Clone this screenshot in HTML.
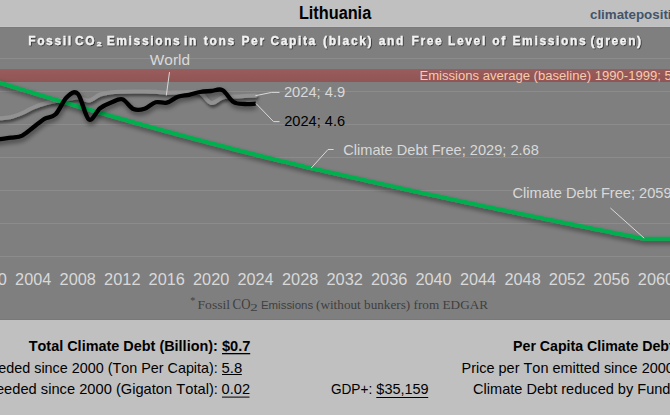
<!DOCTYPE html>
<html><head><meta charset="utf-8"><style>
html,body{margin:0;padding:0;background:#C0C0C0;}
body{width:670px;height:415px;overflow:hidden;position:relative;}
svg{position:absolute;left:0;top:0;display:block;}
text{font-kerning:none;white-space:pre;}
</style></head><body>
<svg width="670" height="415" viewBox="0 0 670 415">
<defs>
<filter id="sh" x="-10%" y="-30%" width="120%" height="160%"><feDropShadow dx="1" dy="3" stdDeviation="2.4" flood-color="#000" flood-opacity="0.5"/></filter>
<filter id="shw" x="-10%" y="-30%" width="120%" height="160%"><feDropShadow dx="1" dy="2.5" stdDeviation="1.6" flood-color="#000" flood-opacity="0.55"/></filter>
<filter id="tsh" x="-5%" y="-50%" width="110%" height="200%"><feDropShadow dx="0.8" dy="0.8" stdDeviation="0.6" flood-color="#000" flood-opacity="0.7"/></filter>
<linearGradient id="bandg" x1="0" y1="0" x2="0" y2="1"><stop offset="0" stop-color="#9A5C5C"/><stop offset="1" stop-color="#905555"/></linearGradient>
<clipPath id="plot"><rect x="0" y="28" width="670" height="291"/></clipPath>
</defs>
<rect x="0" y="0" width="670" height="27" fill="#C0C0C0"/>
<rect x="0" y="26" width="670" height="1" fill="#C4C4C4"/>
<rect x="0" y="27" width="670" height="293" fill="#7F7F7F"/>
<rect x="0" y="27" width="670" height="1" fill="#7A7A7A"/>
<rect x="0" y="319" width="670" height="1" fill="#787878"/>
<rect x="0" y="58" width="670" height="1" fill="#8C8C8C"/><rect x="0" y="91" width="670" height="1" fill="#8C8C8C"/><rect x="0" y="124" width="670" height="1" fill="#8C8C8C"/><rect x="0" y="157" width="670" height="1" fill="#8C8C8C"/><rect x="0" y="190" width="670" height="1" fill="#8C8C8C"/><rect x="0" y="223" width="670" height="1" fill="#8C8C8C"/><rect x="0" y="256" width="670" height="1" fill="#8C8C8C"/>
<rect x="0" y="69" width="670" height="13" fill="url(#bandg)"/>
<g clip-path="url(#plot)" fill="none" stroke-linejoin="round" stroke-linecap="round">
<path d="M-11.13,119.50 C-9.28,119.28 -3.72,118.62 -0.01,118.20 C3.70,117.78 7.40,117.87 11.11,117.00 C14.82,116.13 18.52,114.58 22.23,113.00 C25.94,111.42 29.64,109.08 33.35,107.50 C37.06,105.92 40.76,104.58 44.47,103.50 C48.18,102.42 51.88,101.67 55.59,101.00 C59.30,100.33 63.00,100.08 66.71,99.50 C70.42,98.92 74.12,97.33 77.83,97.50 C81.54,97.67 85.24,101.00 88.95,100.50 C92.66,100.00 96.36,95.87 100.07,94.50 C103.78,93.13 107.48,92.77 111.19,92.30 C114.90,91.83 118.60,91.83 122.31,91.70 C126.02,91.57 129.72,91.53 133.43,91.50 C137.14,91.47 140.84,91.45 144.55,91.50 C148.26,91.55 151.96,91.60 155.67,91.80 C159.38,92.00 163.08,92.58 166.79,92.70 C170.50,92.82 174.20,92.57 177.91,92.50 C181.62,92.43 185.32,92.25 189.03,92.30 C192.74,92.35 196.44,91.02 200.15,92.80 C203.86,94.58 207.56,102.22 211.27,103.00 C214.98,103.78 218.68,98.58 222.39,97.50 C226.10,96.42 229.80,96.75 233.51,96.50 C237.22,96.25 240.92,96.17 244.63,96.00 C248.34,95.83 253.90,95.58 255.75,95.50" stroke="#929292" stroke-width="4.0" filter="url(#shw)"/>
<path d="M-12.00,78.93 L-8.00,80.19 L-4.00,81.45 L0.00,82.70 L4.00,83.95 L8.00,85.19 L12.00,86.43 L16.00,87.67 L20.00,88.90 L24.00,90.13 L28.00,91.35 L32.00,92.57 L36.00,93.79 L40.00,95.00 L44.00,96.21 L48.00,97.41 L52.00,98.61 L56.00,99.81 L60.00,101.00 L64.00,102.19 L68.00,103.38 L72.00,104.56 L76.00,105.74 L80.00,106.91 L84.00,108.08 L88.00,109.25 L92.00,110.41 L96.00,111.57 L100.00,112.72 L104.00,113.87 L108.00,115.02 L112.00,116.16 L116.00,117.30 L120.00,118.43 L124.00,119.56 L128.00,120.69 L132.00,121.82 L136.00,122.93 L140.00,124.05 L144.00,125.16 L148.00,126.27 L152.00,127.37 L156.00,128.47 L160.00,129.57 L164.00,130.66 L168.00,131.75 L172.00,132.84 L176.00,133.92 L180.00,134.99 L184.00,136.07 L188.00,137.14 L192.00,138.20 L196.00,139.26 L200.00,140.32 L204.00,141.37 L208.00,142.42 L212.00,143.47 L216.00,144.51 L220.00,145.55 L224.00,146.58 L228.00,147.61 L232.00,148.64 L236.00,149.66 L240.00,150.68 L244.00,151.70 L248.00,152.71 L252.00,153.72 L256.00,154.72 L260.00,155.72 L264.00,156.71 L268.00,157.71 L272.00,158.69 L276.00,159.68 L280.00,160.66 L284.00,161.63 L288.00,162.61 L292.00,163.57 L296.00,164.54 L300.00,165.50 L304.00,166.46 L308.00,167.41 L312.00,168.25 L316.00,169.16 L320.00,170.08 L324.00,170.99 L328.00,171.90 L332.00,172.81 L336.00,173.71 L340.00,174.62 L344.00,175.52 L348.00,176.43 L352.00,177.33 L356.00,178.22 L360.00,179.12 L364.00,180.02 L368.00,180.91 L372.00,181.80 L376.00,182.69 L380.00,183.58 L384.00,184.47 L388.00,185.36 L392.00,186.24 L396.00,187.12 L400.00,188.00 L404.00,188.88 L408.00,189.76 L412.00,190.64 L416.00,191.51 L420.00,192.39 L424.00,193.26 L428.00,194.13 L432.00,195.00 L436.00,195.86 L440.00,196.73 L444.00,197.59 L448.00,198.45 L452.00,199.31 L456.00,200.17 L460.00,201.03 L464.00,201.88 L468.00,202.74 L472.00,203.59 L476.00,204.44 L480.00,205.29 L484.00,206.14 L488.00,206.98 L492.00,207.82 L496.00,208.67 L500.00,209.51 L504.00,210.35 L508.00,211.18 L512.00,212.02 L516.00,212.85 L520.00,213.69 L524.00,214.52 L528.00,215.35 L532.00,216.18 L536.00,217.00 L540.00,217.83 L544.00,218.65 L548.00,219.47 L552.00,220.29 L556.00,221.11 L560.00,221.93 L564.00,222.74 L568.00,223.55 L572.00,224.37 L576.00,225.18 L580.00,225.98 L584.00,226.79 L588.00,227.60 L592.00,228.40 L596.00,229.20 L600.00,230.00 L604.00,230.80 L608.00,231.60 L612.00,232.40 L616.00,233.19 L620.00,233.98 L624.00,234.77 L628.00,235.56 L632.00,236.35 L636.00,237.14 L640.00,237.92 L644.00,238.70 L644.50,238.80 L680.00,238.80" stroke="#00B050" stroke-width="4.1" filter="url(#sh)"/>
<path d="M-11.13,141.50 C-9.28,141.12 -3.72,139.83 -0.01,139.20 C3.70,138.57 7.40,138.30 11.11,137.70 C14.82,137.10 18.52,137.33 22.23,135.60 C25.94,133.87 29.64,130.10 33.35,127.30 C37.06,124.50 40.76,120.97 44.47,118.80 C48.18,116.63 51.88,117.88 55.59,114.30 C59.30,110.72 63.00,100.72 66.71,97.30 C70.42,93.88 74.12,90.10 77.83,93.80 C81.54,97.50 85.24,117.10 88.95,119.50 C92.66,121.90 96.36,111.02 100.07,108.20 C103.78,105.38 107.48,104.08 111.19,102.60 C114.90,101.12 118.60,98.23 122.31,99.30 C126.02,100.37 129.72,107.42 133.43,109.00 C137.14,110.58 140.84,109.92 144.55,108.80 C148.26,107.68 151.96,103.32 155.67,102.30 C159.38,101.28 163.08,103.62 166.79,102.70 C170.50,101.78 174.20,98.12 177.91,96.80 C181.62,95.48 185.32,95.60 189.03,94.80 C192.74,94.00 196.44,92.63 200.15,92.00 C203.86,91.37 207.56,91.32 211.27,91.00 C214.98,90.68 218.68,88.27 222.39,90.10 C226.10,91.93 229.80,99.68 233.51,102.00 C237.22,104.32 240.92,103.72 244.63,104.00 C248.34,104.28 253.90,103.75 255.75,103.70" stroke="#000000" stroke-width="4.3" stroke-linecap="butt" filter="url(#sh)"/>
</g>
<g stroke="#D9D9D9" stroke-width="1" fill="none"><line x1="169.5" y1="72.1" x2="166.3" y2="95.5"/><polyline points="255.4,95.7 271.7,92.4 279.5,92.4"/><polyline points="256.0,103.5 273.5,121.6 279.5,121.6"/><polyline points="311.2,168.1 328.0,149.5 333.6,149.5"/><polyline points="644.2,238.2 610.4,208.0"/></g>
<rect x="222.0" y="353.0" width="28.2" height="1.3" fill="#000"/><rect x="222.0" y="374.0" width="19.8" height="1.0" fill="#000"/><rect x="222.0" y="396.6" width="27.5" height="1.0" fill="#000"/><rect x="376.3" y="397.0" width="51.9" height="1.0" fill="#000"/>
<text id="t_title" x="298.91" y="18.85" font-family='"Liberation Sans", sans-serif' font-weight="bold" font-size="17.50" fill="#000000" textLength="72.28" lengthAdjust="spacingAndGlyphs">Lithuania</text>
<text id="t_site" x="589.98" y="18.60" font-family='"Liberation Sans", sans-serif' font-weight="bold" font-size="13.30" fill="#44546A" textLength="136.49" lengthAdjust="spacingAndGlyphs">climatepositions.com</text>
<text id="t_world" x="149.83" y="64.90" font-family='"Liberation Sans", sans-serif' font-weight="normal" font-size="14.40" fill="#D9D9D9" textLength="40.16" lengthAdjust="spacingAndGlyphs">World</text>
<text id="t_band" x="419.43" y="79.70" font-family='"Liberation Sans", sans-serif' font-weight="normal" font-size="12.50" fill="#F8CBAD" textLength="270.62" lengthAdjust="spacingAndGlyphs">Emissions average (baseline) 1990-1999; 5.49</text>
<text id="t_w24" x="283.96" y="96.80" font-family='"Liberation Sans", sans-serif' font-weight="normal" font-size="14.20" fill="#D9D9D9" textLength="61.23" lengthAdjust="spacingAndGlyphs">2024; 4.9</text>
<text id="t_b24" x="284.16" y="125.80" font-family='"Liberation Sans", sans-serif' font-weight="normal" font-size="14.20" fill="#000000" textLength="60.98" lengthAdjust="spacingAndGlyphs">2024; 4.6</text>
<text id="t_cdf1" x="343.26" y="154.90" font-family='"Liberation Sans", sans-serif' font-weight="normal" font-size="14.20" fill="#D9D9D9" textLength="195.58" lengthAdjust="spacingAndGlyphs">Climate Debt Free; 2029; 2.68</text>
<text id="t_cdf2" x="512.46" y="197.80" font-family='"Liberation Sans", sans-serif' font-weight="normal" font-size="14.20" fill="#D9D9D9" textLength="195.58" lengthAdjust="spacingAndGlyphs">Climate Debt Free; 2059; 0.54</text>
<text id="t_ax2000" x="-29.35" y="284.70" font-family='"Liberation Sans", sans-serif' font-weight="normal" font-size="15.60" fill="#D9D9D9" textLength="36.26" lengthAdjust="spacingAndGlyphs">2000</text>
<text id="t_ax2004" x="15.13" y="284.70" font-family='"Liberation Sans", sans-serif' font-weight="normal" font-size="15.60" fill="#D9D9D9" textLength="36.09" lengthAdjust="spacingAndGlyphs">2004</text>
<text id="t_ax2008" x="59.61" y="284.70" font-family='"Liberation Sans", sans-serif' font-weight="normal" font-size="15.60" fill="#D9D9D9" textLength="36.33" lengthAdjust="spacingAndGlyphs">2008</text>
<text id="t_ax2012" x="104.09" y="284.70" font-family='"Liberation Sans", sans-serif' font-weight="normal" font-size="15.60" fill="#D9D9D9" textLength="36.45" lengthAdjust="spacingAndGlyphs">2012</text>
<text id="t_ax2016" x="148.57" y="284.70" font-family='"Liberation Sans", sans-serif' font-weight="normal" font-size="15.60" fill="#D9D9D9" textLength="36.34" lengthAdjust="spacingAndGlyphs">2016</text>
<text id="t_ax2020" x="193.05" y="284.70" font-family='"Liberation Sans", sans-serif' font-weight="normal" font-size="15.60" fill="#D9D9D9" textLength="36.26" lengthAdjust="spacingAndGlyphs">2020</text>
<text id="t_ax2024" x="237.53" y="284.70" font-family='"Liberation Sans", sans-serif' font-weight="normal" font-size="15.60" fill="#D9D9D9" textLength="36.09" lengthAdjust="spacingAndGlyphs">2024</text>
<text id="t_ax2028" x="282.01" y="284.70" font-family='"Liberation Sans", sans-serif' font-weight="normal" font-size="15.60" fill="#D9D9D9" textLength="36.33" lengthAdjust="spacingAndGlyphs">2028</text>
<text id="t_ax2032" x="326.49" y="284.70" font-family='"Liberation Sans", sans-serif' font-weight="normal" font-size="15.60" fill="#D9D9D9" textLength="36.45" lengthAdjust="spacingAndGlyphs">2032</text>
<text id="t_ax2036" x="370.97" y="284.70" font-family='"Liberation Sans", sans-serif' font-weight="normal" font-size="15.60" fill="#D9D9D9" textLength="36.34" lengthAdjust="spacingAndGlyphs">2036</text>
<text id="t_ax2040" x="415.45" y="284.70" font-family='"Liberation Sans", sans-serif' font-weight="normal" font-size="15.60" fill="#D9D9D9" textLength="36.26" lengthAdjust="spacingAndGlyphs">2040</text>
<text id="t_ax2044" x="459.93" y="284.70" font-family='"Liberation Sans", sans-serif' font-weight="normal" font-size="15.60" fill="#D9D9D9" textLength="36.09" lengthAdjust="spacingAndGlyphs">2044</text>
<text id="t_ax2048" x="504.41" y="284.70" font-family='"Liberation Sans", sans-serif' font-weight="normal" font-size="15.60" fill="#D9D9D9" textLength="36.33" lengthAdjust="spacingAndGlyphs">2048</text>
<text id="t_ax2052" x="548.89" y="284.70" font-family='"Liberation Sans", sans-serif' font-weight="normal" font-size="15.60" fill="#D9D9D9" textLength="36.45" lengthAdjust="spacingAndGlyphs">2052</text>
<text id="t_ax2056" x="593.37" y="284.70" font-family='"Liberation Sans", sans-serif' font-weight="normal" font-size="15.60" fill="#D9D9D9" textLength="36.34" lengthAdjust="spacingAndGlyphs">2056</text>
<text id="t_ax2060" x="637.85" y="284.70" font-family='"Liberation Sans", sans-serif' font-weight="normal" font-size="15.60" fill="#D9D9D9" textLength="36.26" lengthAdjust="spacingAndGlyphs">2060</text>
<text id="t_fn_star" x="190.30" y="303.50" font-family='"Liberation Serif", serif' font-weight="normal" font-size="10.00" fill="#404040" textLength="5.08" lengthAdjust="spacingAndGlyphs">*</text>
<text id="t_fn1" x="197.51" y="308.80" font-family='"Liberation Serif", serif' font-weight="normal" font-size="13.00" fill="#404040" textLength="32.57" lengthAdjust="spacingAndGlyphs">Fossil</text>
<text id="t_fn2" x="232.57" y="309.30" font-family='"Liberation Serif", serif' font-weight="normal" font-size="14.00" fill="#404040" textLength="17.85" lengthAdjust="spacingAndGlyphs">CO</text>
<text id="t_fn3" x="250.34" y="310.80" font-family='"Liberation Serif", serif' font-weight="normal" font-size="10.00" fill="#404040" textLength="7.48" lengthAdjust="spacingAndGlyphs">2</text>
<text id="t_fn4" x="260.96" y="309.10" font-family='"Liberation Sans", sans-serif' font-weight="normal" font-size="11.40" fill="#404040" textLength="52.15" lengthAdjust="spacingAndGlyphs">Emissions</text>
<text id="t_fn5" x="316.02" y="308.80" font-family='"Liberation Serif", serif' font-weight="normal" font-size="13.00" fill="#404040" textLength="172.00" lengthAdjust="spacingAndGlyphs">(without bunkers) from EDGAR</text>
<text id="t_r1l" x="28.74" y="350.70" font-family='"Liberation Sans", sans-serif' font-weight="bold" font-size="14.00" fill="#000000" textLength="189.15" lengthAdjust="spacingAndGlyphs">Total Climate Debt (Billion):</text>
<text id="t_r1v" x="222.01" y="350.70" font-family='"Liberation Sans", sans-serif' font-weight="bold" font-size="14.00" fill="#000000" textLength="28.43" lengthAdjust="spacingAndGlyphs">$0.7</text>
<text id="t_r2l" x="-103.10" y="372.70" font-family='"Liberation Sans", sans-serif' font-weight="normal" font-size="14.40" fill="#000000" textLength="320.92" lengthAdjust="spacingAndGlyphs">Emissions Exceeded since 2000 (Ton Per Capita):</text>
<text id="t_r2v" x="221.61" y="372.70" font-family='"Liberation Sans", sans-serif' font-weight="normal" font-size="14.40" fill="#000000" textLength="20.64" lengthAdjust="spacingAndGlyphs">5.8</text>
<text id="t_r3l" x="-99.53" y="394.40" font-family='"Liberation Sans", sans-serif' font-weight="normal" font-size="14.40" fill="#000000" textLength="317.37" lengthAdjust="spacingAndGlyphs">Emissions Exceeded since 2000 (Gigaton Total):</text>
<text id="t_r3v" x="221.63" y="394.40" font-family='"Liberation Sans", sans-serif' font-weight="normal" font-size="14.40" fill="#000000" textLength="28.40" lengthAdjust="spacingAndGlyphs">0.02</text>
<text id="t_gdp" x="330.91" y="394.40" font-family='"Liberation Sans", sans-serif' font-weight="normal" font-size="14.40" fill="#000000" textLength="41.33" lengthAdjust="spacingAndGlyphs">GDP+:</text>
<text id="t_gdpv" x="376.34" y="394.40" font-family='"Liberation Sans", sans-serif' font-weight="normal" font-size="14.40" fill="#000000" textLength="52.34" lengthAdjust="spacingAndGlyphs">$35,159</text>
<text id="t_rr1" x="513.05" y="350.70" font-family='"Liberation Sans", sans-serif' font-weight="bold" font-size="14.00" fill="#000000" textLength="185.13" lengthAdjust="spacingAndGlyphs">Per Capita Climate Debt: $1</text>
<text id="t_rr2" x="461.61" y="372.70" font-family='"Liberation Sans", sans-serif' font-weight="normal" font-size="14.40" fill="#000000" textLength="236.36" lengthAdjust="spacingAndGlyphs">Price per Ton emitted since 2000: $3</text>
<text id="t_rr3" x="473.06" y="394.40" font-family='"Liberation Sans", sans-serif' font-weight="normal" font-size="14.40" fill="#000000" textLength="228.98" lengthAdjust="spacingAndGlyphs">Climate Debt reduced by Funds: $0</text>
<text id="t_sub" transform="scale(0.9500,1)" y="44.6" font-family='"Liberation Sans", sans-serif' font-weight="bold" font-size="12.60" letter-spacing="1.750" fill="#F2F2F2" stroke="#F2F2F2" stroke-width="0.3" filter="url(#tsh)"><tspan x="29.68">Fossil</tspan><tspan x="78.96">CO</tspan><tspan dy="1.2" font-size="13.6">₂</tspan><tspan dy="-1.2" x="112.32">Emissions</tspan><tspan x="193.75">in</tspan><tspan x="214.58">tons</tspan><tspan x="254.21">Per</tspan><tspan x="284.64">Capita</tspan><tspan x="340.00">(black)</tspan><tspan x="398.68">and</tspan><tspan x="433.16">Free</tspan><tspan x="471.58">Level</tspan><tspan x="518.14">of</tspan><tspan x="539.47">Emissions</tspan><tspan x="621.69">(green)</tspan></text>
</svg>
</body></html>
